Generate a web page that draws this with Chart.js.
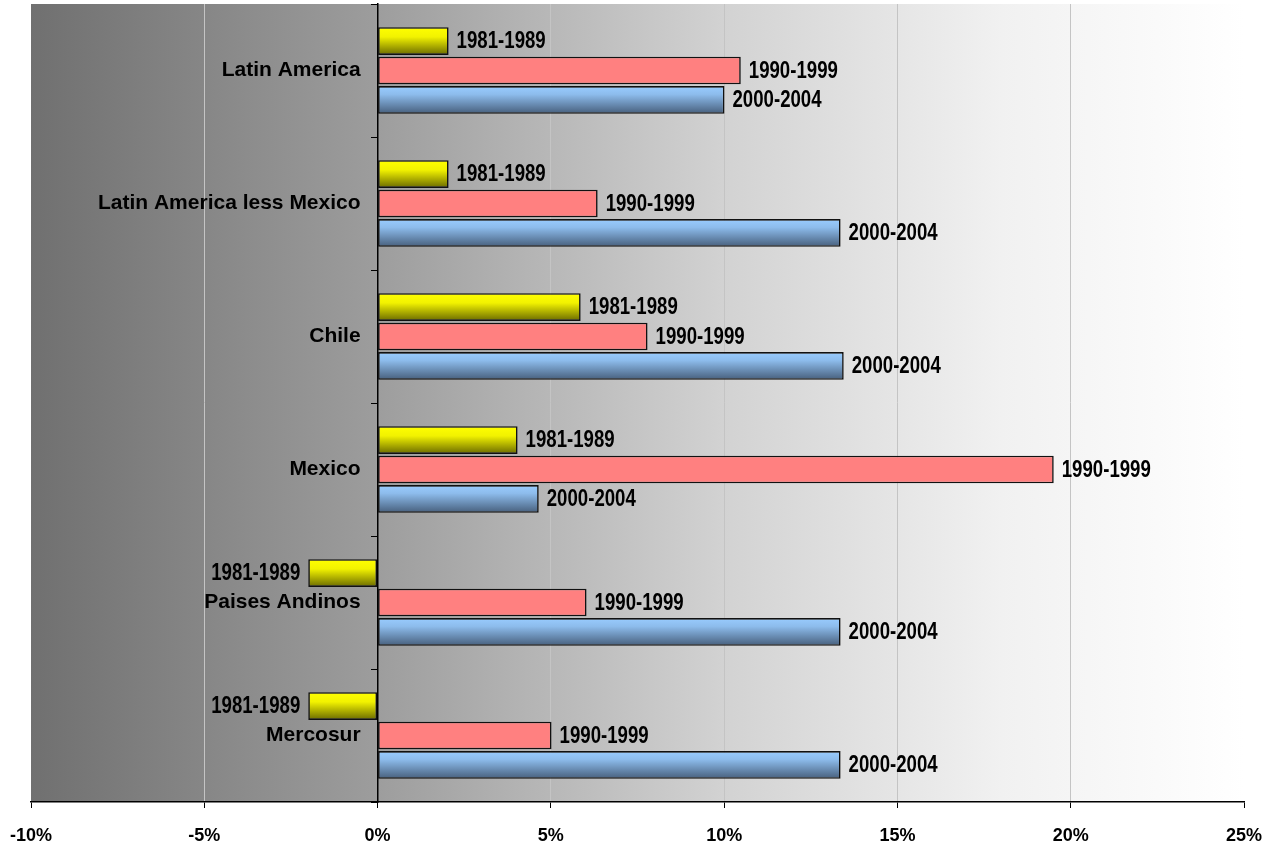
<!DOCTYPE html>
<html><head><meta charset="utf-8">
<script src="https://cdn.jsdelivr.net/npm/chart.js@4.4.1/dist/chart.umd.min.js"></script>
<style>html,body{margin:0;padding:0;background:#fff}#wrap{width:1277px;height:850px;position:relative}</style>
</head><body><div id="wrap"><canvas id="c"></canvas></div>
<script>
const categories = ['Latin America', 'Latin America less Mexico', 'Chile', 'Mexico', 'Paises Andinos', 'Mercosur'];
const seriesNames = ['1981-1989', '1990-1999', '2000-2004'];
const growth1981_1989 = [2.05, 2.05, 5.86, 4.04, -2.0, -2.0];
const growth1990_1999 = [10.48, 6.35, 7.79, 19.51, 6.03, 5.02];
const growth2000_2004 = [10.01, 13.36, 13.45, 4.65, 13.36, 13.36];
const xTickValues = [-10, -5, 0, 5, 10, 15, 20, 25];

const FONT = 'Liberation Sans, Arial, Helvetica, sans-serif';
const CAT_PCT = 0.664, BAR_PCT = 0.94;

function barGradient(ctx, stops) {
  const chart = ctx.chart;
  if (!chart.chartArea || !chart.scales.y) return stops[0][1];
  const ys = chart.scales.y;
  const catH = (chart.chartArea.bottom - chart.chartArea.top) / categories.length;
  const slot = catH * CAT_PCT / 3;
  const h = slot * BAR_PCT;
  const center = ys.getPixelForValue(ctx.dataIndex) + (ctx.datasetIndex - 1) * slot;
  const top = center - h / 2, bot = center + h / 2;
  const g = chart.ctx.createLinearGradient(0, top, 0, bot);
  stops.forEach(s => g.addColorStop(s[0], s[1]));
  return g;
}

const bgPlugin = {
  id: 'bgGrad',
  beforeDraw(chart) {
    const {ctx, chartArea: a} = chart;
    const g = ctx.createLinearGradient(a.left, 0, a.right, 0);
    g.addColorStop(0, '#707070');
    g.addColorStop(0.28, '#9c9c9c');
    g.addColorStop(0.57, '#d2d2d2');
    g.addColorStop(0.8, '#f1f1f1');
    g.addColorStop(1, '#ffffff');
    ctx.save();
    ctx.fillStyle = g;
    ctx.fillRect(a.left, a.top, a.right - a.left, a.bottom - a.top);
    ctx.restore();
  }
};

const labelPlugin = {
  id: 'barLabels',
  afterDatasetsDraw(chart) {
    const ctx = chart.ctx;
    ctx.save();
    ctx.font = 'bold 23px ' + FONT;
    ctx.fillStyle = '#000';
    ctx.textBaseline = 'middle';
    chart.data.datasets.forEach((ds, di) => {
      chart.getDatasetMeta(di).data.forEach((bar, i) => {
        const v = ds.data[i];
        const neg = v < 0;
        ctx.save();
        ctx.textAlign = neg ? 'right' : 'left';
        ctx.translate(neg ? bar.x - 8 : bar.x + 8, bar.y + 1);
        ctx.scale(0.81, 1);
        ctx.fillText(ds.label, 0, 0);
        ctx.restore();
      });
    });
    // category labels, right-aligned against the zero axis
    const xs = chart.scales.x, ys = chart.scales.y;
    const x0 = xs.getPixelForValue(0);
    ctx.font = 'bold 21px ' + FONT;
    ctx.textAlign = 'right';
    chart.data.labels.forEach((lab, i) => {
      ctx.fillText(lab, x0 - 17, ys.getPixelForValue(i));
    });
    ctx.restore();
  }
};

new Chart(document.getElementById('c'), {
  type: 'bar',
  data: {
    labels: categories,
    datasets: [
      { label: seriesNames[0], data: growth1981_1989,
        backgroundColor: c => barGradient(c, [[0, '#ffff00'], [0.35, '#f2f200'], [1, '#6a6a00']]) },
      { label: seriesNames[1], data: growth1990_1999, backgroundColor: '#ff8080' },
      { label: seriesNames[2], data: growth2000_2004,
        backgroundColor: c => barGradient(c, [[0, '#99ccff'], [0.3, '#8dbcec'], [1, '#475f7c']]) }
    ]
  },
  options: {
    indexAxis: 'y',
    responsive: true,
    maintainAspectRatio: false,
    animation: false,
    layout: { padding: { top: 4, left: 31, right: 33, bottom: 8 } },
    datasets: { bar: { categoryPercentage: CAT_PCT, barPercentage: BAR_PCT, borderWidth: 1.6, borderColor: '#111', borderSkipped: false } },
    plugins: { legend: { display: false }, tooltip: { enabled: false } },
    scales: {
      x: {
        type: 'linear', min: -10, max: 25, position: 'bottom',
        afterBuildTicks(s) { s.ticks = xTickValues.map(v => ({ value: v })); },
        afterFit(s) { s.height = 40; s.paddingLeft = 0; s.paddingRight = 0; },
        grid: {
          color: c => (c.tick && [-10, 0, 25].includes(c.tick.value)) ? 'rgba(0,0,0,0)' : '#c4c4c4',
          tickColor: '#000', tickLength: 6, lineWidth: 1
        },
        border: { display: true, color: '#000', width: 1.5 },
        ticks: { callback: v => v + '%', font: { family: FONT, size: 18, weight: 'bold' }, color: '#000', padding: 17, maxRotation: 0, autoSkip: false }
      },
      y: {
        type: 'category', position: { x: 0 },
        afterFit(s) { s.width = 0; },
        grid: { offset: true, drawOnChartArea: false, drawTicks: true, tickLength: 6, color: '#000', lineWidth: 1 },
        border: { display: true, color: '#000', width: 1.5 },
        ticks: { display: false }
      }
    }
  },
  plugins: [bgPlugin, labelPlugin]
});
</script></body></html>
